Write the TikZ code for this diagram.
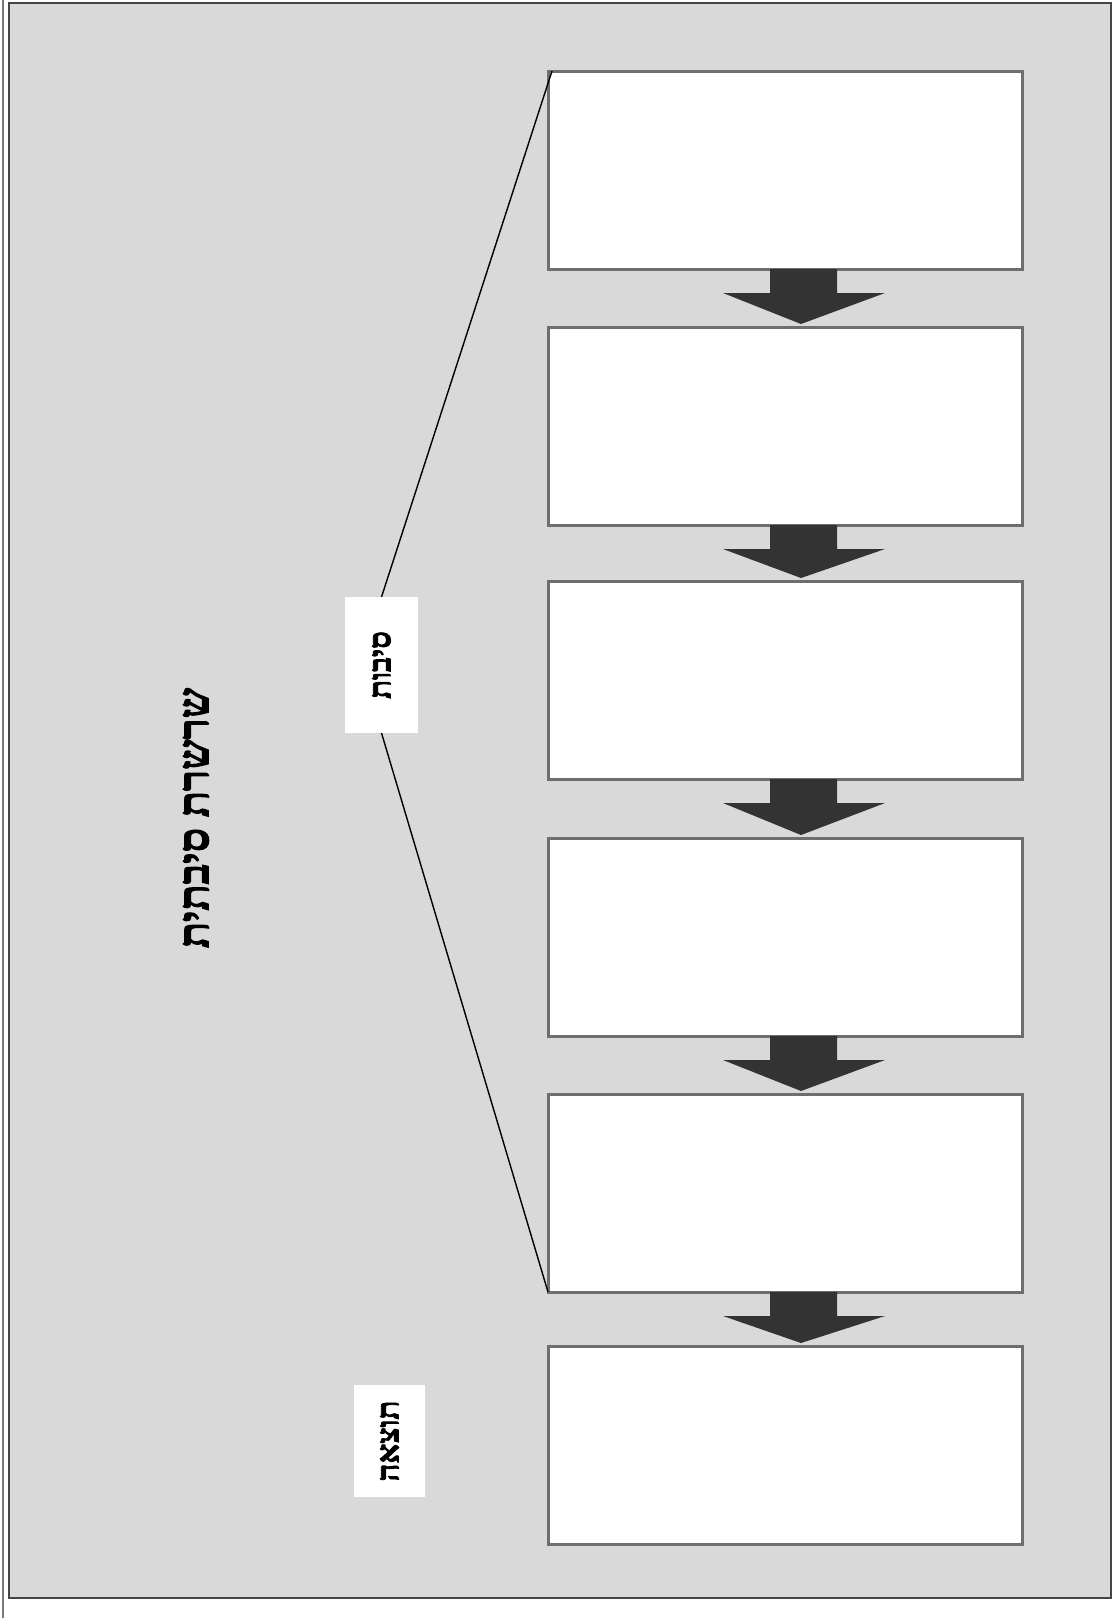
\documentclass[tikz,border=0pt]{standalone}
\usepackage{fontspec}
\setmainfont{Liberation Sans}
\newfontfamily\hebfont[Script=Hebrew,FakeBold=2.5]{Liberation Serif}
\TeXXeTstate=1
\usetikzlibrary{calc}
\definecolor{bgray}{HTML}{D9D9D9}
\definecolor{framecol}{HTML}{454545}
\definecolor{boxline}{HTML}{6E6E6E}
\definecolor{arrowfill}{HTML}{333333}
\definecolor{leftline}{HTML}{7A7A7A}
\newcommand\chainarrow[2]{%
  \fill[arrowfill] ($(#1.south)+(-15,0)$) -- ($(#1.south)+(52,0)$) -- ($(#1.south)+(52,24)$)
    -- ($(#1.south)+(100,24)$) -- ($(#2.north)+(16,-3)$) -- ($(#1.south)+(-62,24)$)
    -- ($(#1.south)+(-15,24)$) -- cycle;}
\begin{document}
\begin{tikzpicture}[x=1pt,y=-1pt,
  chainbox/.style={draw=boxline, fill=white, line width=3pt, minimum width=474pt, minimum height=198pt, inner sep=0pt, outer sep=0pt},
  tag/.style={fill=white, inner sep=0pt, outer sep=0pt, rotate=90, font=\hebfont\bfseries\fontsize{31}{31}\selectfont},
  thinline/.style={black, line width=1.4pt}]
\useasboundingbox (0,0) rectangle (1113,1618);
\draw[leftline, line width=2pt] (3,0) -- (3,1618);
\node[draw=framecol, fill=bgray, line width=2.8pt, minimum width=1102pt, minimum height=1595pt, inner sep=0pt] (frame) at (560,800.5) {};
\node[chainbox] (b1) at (785,170) {};
\node[chainbox] (b2) at (785,426) {};
\node[chainbox] (b3) at (785,680) {};
\node[chainbox] (b4) at (785,937) {};
\node[chainbox] (b5) at (785,1193) {};
\node[chainbox] (b6) at (785,1445) {};
\chainarrow{b1}{b2}
\chainarrow{b2}{b3}
\chainarrow{b3}{b4}
\chainarrow{b4}{b5}
\chainarrow{b5}{b6}
\node[tag, minimum width=136pt, minimum height=73pt] (causes) at (381.5,665) {\beginR סיבות\endR};
\node[tag, minimum width=112pt, minimum height=71pt] (result) at (389.5,1441) {\beginR תוצאה\endR};
\draw[thinline] ([xshift=4pt]b1.north west) -- (causes.east);
\draw[thinline] (causes.west) -- (b5.south west);
\node[rotate=90, inner sep=0pt, font=\hebfont\bfseries\fontsize{43}{43}\selectfont] (title) at (196,818) {\beginR שרשרת סיבתית\endR};
\end{tikzpicture}
\end{document}
